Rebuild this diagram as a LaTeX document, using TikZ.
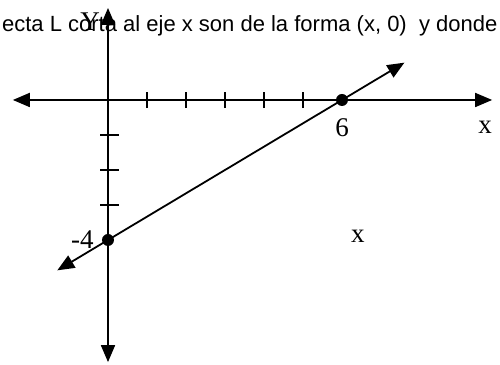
\documentclass[tikz,border=0pt]{standalone}
\usepackage{fontspec}
\setmainfont{Liberation Serif}
\newfontfamily\arialfont{Liberation Sans}
\usetikzlibrary{arrows.meta, positioning}
\tikzset{
  axisline/.style={line width=1.8pt, {Triangle[length=17pt,width=14pt]}-{Triangle[length=17pt,width=14pt]}},
  tickline/.style={line width=1.4pt},
  dotpt/.style={circle, fill=black, inner sep=0pt, minimum size=12pt},
  lbl/.style={font=\fontsize{27}{30}\selectfont, inner sep=0pt}
}

\begin{document}
\begin{tikzpicture}[x=39pt, y=35pt]
    \useasboundingbox (-2.7692,-7.5714) rectangle (10.0513,2.8571);
    \node[font=\arialfont\fontsize{22}{26}\selectfont, anchor=base west, inner sep=0pt] (frase) at (-2.72,1.943) {ecta L corta al eje x son de la forma (x, 0)\ \ y donde};
    \coordinate (xl) at (-2.44,0);
    \coordinate (xr) at (9.85,0);
    \coordinate (yt) at (0,2.63);
    \coordinate (yb) at (0,-7.49);
    \draw[axisline] (xl) -- (xr);
    \draw[axisline] (yb) -- (yt);
    \foreach \i in {1,...,5} {
      \draw[tickline] (\i,-0.23) -- (\i,0.23);
    }
    \foreach \j in {1,2,3} {
      \draw[tickline] (-0.2,-\j) -- (0.28,-\j);
    }
    \coordinate (lo) at (-1.3,-4.867);
    \coordinate (hi) at (7.6,1.067);
    \draw[axisline] (lo) -- (hi);
    \node[dotpt] (cortex) at (6,0) {};
    \node[dotpt] (cortey) at (0,-4) {};
    \node[lbl, below=12pt of cortex] (seis) {6};
    \node[lbl, left=8pt of cortey] (menos) {-4};
    \node[lbl] (ejey) at (-0.46,2.23) {Y};
    \node[lbl] (ejex) at (9.67,-0.77) {x};
    \node[lbl] (equis) at (6.41,-3.89) {x};
  \end{tikzpicture}
\end{document}
